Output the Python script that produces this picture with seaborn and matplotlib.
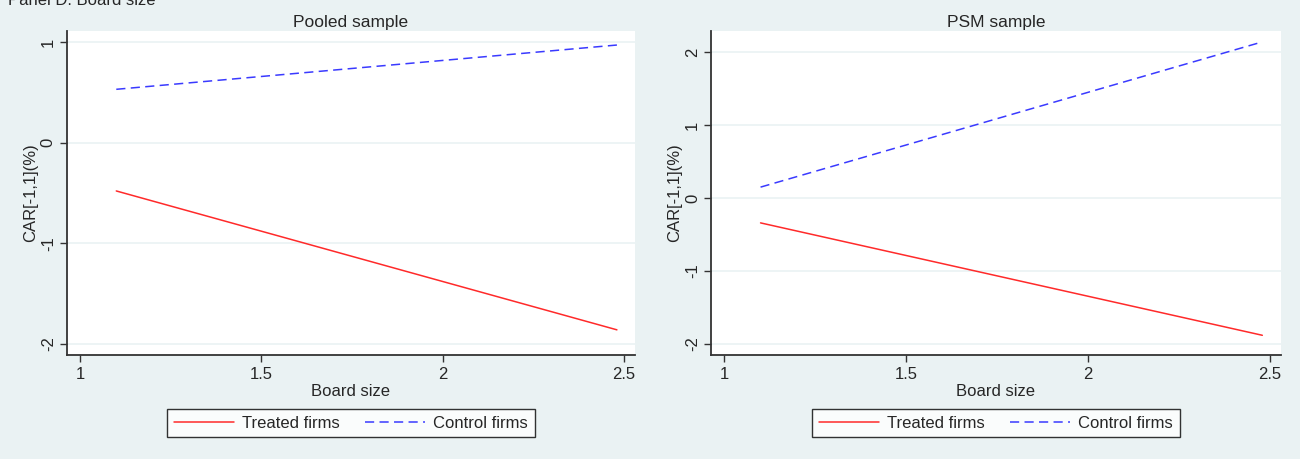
import pandas as pd
import matplotlib.pyplot as plt
import seaborn as sns

# Data
board_size = [1.1, 2.48]
pooled_treated = [-0.48, -1.86]
pooled_control = [0.53, 0.97]
psm_treated = [-0.34, -1.88]
psm_control = [0.15, 2.14]
groups = ['Treated firms', 'Control firms']

panels = [
    ('Pooled sample', pooled_treated, pooled_control, [1, 0, -1, -2], (-2.11, 1.11)),
    ('PSM sample', psm_treated, psm_control, [2, 1, 0, -1, -2], (-2.15, 2.29)),
]

bg = '#eaf2f3'
sns.set_style('white')
plt.rcParams['font.family'] = ['Liberation Sans', 'DejaVu Sans']
plt.rcParams['font.size'] = 12

fig = plt.figure(figsize=(13, 4.59), dpi=100, facecolor=bg)
positions = [[0.0515, 0.2266, 0.437, 0.706], [0.547, 0.2266, 0.438, 0.706]]

for pos, (title, treated, control, yticks, ylim) in zip(positions, panels):
    ax = fig.add_axes(pos)
    df = pd.DataFrame({
        'Board size': board_size * 2,
        'CAR': treated + control,
        'group': [groups[0]] * 2 + [groups[1]] * 2,
    })
    sns.lineplot(data=df, x='Board size', y='CAR', hue='group', style='group',
                 palette={groups[0]: '#ff2a2a', groups[1]: '#3a3aff'},
                 dashes={groups[0]: '', groups[1]: (6, 3.5)},
                 linewidth=1.1, ax=ax)
    ax.set_facecolor('white')
    ax.set_xlim(0.964, 2.53)
    ax.set_ylim(*ylim)
    ax.set_xticks([1, 1.5, 2, 2.5])
    ax.set_xticklabels(['1', '1.5', '2', '2.5'])
    ax.set_yticks(yticks)
    ax.set_yticklabels([str(t) for t in yticks], rotation=90, va='center')
    for t in yticks:
        ax.axhline(t, color=bg, lw=1.2, zorder=0)
    for s in ['top', 'right']:
        ax.spines[s].set_visible(False)
    for s in ['left', 'bottom']:
        ax.spines[s].set_color('#333333')
        ax.spines[s].set_linewidth(1.3)
    ax.tick_params(axis='both', direction='out', length=5, width=1,
                   color='#333333', labelsize=12, pad=4, left=True, bottom=True)
    ax.tick_params(axis='y', pad=3)
    ax.set_xlabel('Board size', fontsize=12, labelpad=1)
    ax.set_ylabel('CAR[-1,1](%)', fontsize=12, labelpad=2)
    ax.set_title(title, fontsize=12.5, pad=3)
    handles, labels = ax.get_legend_handles_labels()
    ax.get_legend().remove()
    cx = pos[0] + pos[2] / 2
    leg = ax.legend(handles, labels, ncol=2, loc='center',
                    bbox_to_anchor=(cx, 1 - 423 / 459),
                    bbox_transform=fig.transFigure, fontsize=12,
                    frameon=True, fancybox=False, handlelength=3.6,
                    handletextpad=0.5, columnspacing=1.5, borderpad=0.4)
    leg.get_frame().set_edgecolor('black')
    leg.get_frame().set_linewidth(1.0)

fig.text(0.006, 1 - 5 / 459, 'Panel D. Board size', fontsize=12, va='baseline')

plt.savefig('out.png', dpi=100, facecolor=bg)
